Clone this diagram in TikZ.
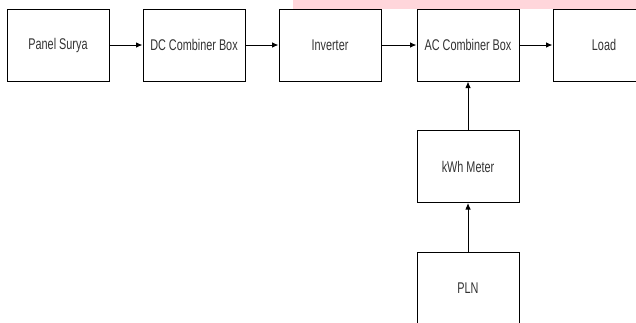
\documentclass[tikz,border=0pt]{standalone}
\usepackage{fontspec}
\setmainfont{Liberation Sans}
\usetikzlibrary{arrows.meta}
\definecolor{pinkband}{HTML}{FFD6DB}
\definecolor{txt}{HTML}{333333}
\newcommand{\nar}[1]{\scalebox{0.7}[1]{#1}}
\tikzset{
  blk/.style={draw=black, line width=1pt, minimum width=102pt, minimum height=72pt, inner sep=0pt, text=txt, font=\fontsize{15.5pt}{18pt}\selectfont},
  conn/.style={line width=1pt, -{Latex[length=6.5pt,width=5.5pt]}}
}
\begin{document}
\begin{tikzpicture}[x=1pt,y=-1pt]
\useasboundingbox (0,0) rectangle (636,322);
\fill[pinkband] (293,0) rectangle (636,9);
\node[blk] (panel) at (58,45) {\nar{Panel Surya}};
\node[blk] (dc) at (194,45) {\nar{DC Combiner Box}};
\node[blk] (inv) at (330,45) {\nar{Inverter}};
\node[blk] (ac) at (468,45) {\nar{AC Combiner Box}};
\node[blk] (load) at (604,45) {\nar{Load}};
\node[blk] (kwh) at (468,166.5) {\nar{kWh Meter}};
\node[blk] (pln) at (468,288) {\nar{PLN}};
\draw[conn] (panel) -- (dc);
\draw[conn] (dc) -- (inv);
\draw[conn] (inv) -- (ac);
\draw[conn] (ac) -- (load);
\draw[conn] (kwh) -- (ac);
\draw[conn] (pln) -- (kwh);
\end{tikzpicture}
\end{document}
